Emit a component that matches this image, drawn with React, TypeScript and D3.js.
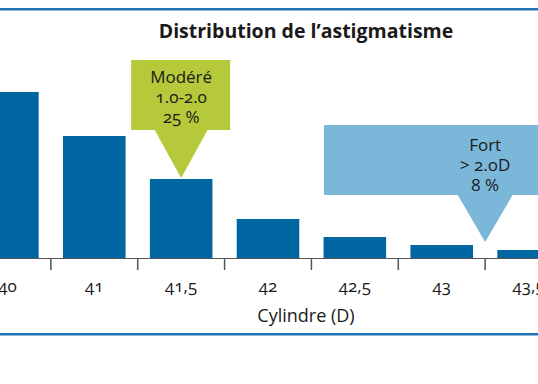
import React, { useEffect, useRef } from "react";
import * as d3 from "d3";

// Cylinder classes (x axis) and bar heights (relative share, %)
const categories = ["40", "41", "41,5", "42", "42,5", "43", "43,5"];
const values = [33.2, 24.4, 15.8, 7.8, 4.2, 2.6, 1.6];

// Callouts
const moderateLines = ["Modéré", "1.0-2.0", "25 %"];
const strongLines = ["Fort", "> 2.oD", "8 %"];

const title = "Distribution de l\u2019astigmatisme";
const xLabel = "Cylindre (D)";

const App = () => {
  const ref = useRef<SVGSVGElement | null>(null);

  useEffect(() => {
    const width = 538;
    const height = 384;
    const baseline = 258;
    const font = "'Open Sans', 'Noto Sans', sans-serif";

    const svg = d3.select(ref.current);
    svg.selectAll("*").remove();

    const x = d3
      .scaleBand()
      .domain(categories)
      .range([-36, 572])
      .paddingInner(0.28)
      .paddingOuter(0.14);

    const y = d3.scaleLinear().domain([0, 40]).range([baseline, 58]);

    const step = x.step();
    const gap = (step - x.bandwidth()) / 2;

    svg.append("rect").attr("width", width).attr("height", height).attr("fill", "#fff");

    // horizontal rules
    svg.append("rect").attr("x", 0).attr("y", 8).attr("width", width).attr("height", 2.5).attr("fill", "#2271b1");
    svg.append("rect").attr("x", 0).attr("y", 333).attr("width", width).attr("height", 2.5).attr("fill", "#2271b1");

    // title
    svg
      .append("text")
      .attr("x", 306)
      .attr("y", 38)
      .attr("text-anchor", "middle")
      .style("font-family", font)
      .style("font-weight", "700")
      .style("font-size", "19.5px")
      .style("fill", "#1a1a1a")
      .text(title);

    // bars
    svg
      .selectAll("rect.bar")
      .data(values)
      .join("rect")
      .attr("class", "bar")
      .attr("x", (d, i) => x(categories[i])!)
      .attr("y", (d) => y(d))
      .attr("width", x.bandwidth())
      .attr("height", (d) => baseline - y(d))
      .attr("fill", "#0066a1");

    // axis line + ticks between bands
    svg
      .append("line")
      .attr("x1", 0)
      .attr("x2", width)
      .attr("y1", baseline + 0.5)
      .attr("y2", baseline + 0.5)
      .attr("stroke", "#555")
      .attr("stroke-width", 1.2);

    const boundaries = categories.map((c) => x(c)! + x.bandwidth() + gap);
    svg
      .selectAll("line.tick")
      .data(boundaries)
      .join("line")
      .attr("class", "tick")
      .attr("x1", (d) => d)
      .attr("x2", (d) => d)
      .attr("y1", baseline)
      .attr("y2", baseline + 12)
      .attr("stroke", "#555")
      .attr("stroke-width", 1.5);

    // tick labels
    svg
      .selectAll("text.tl")
      .data(categories)
      .join("text")
      .attr("class", "tl")
      .attr("x", (d) => x(d)! + x.bandwidth() / 2)
      .attr("y", 292)
      .attr("text-anchor", "middle")
      .style("font-family", font)
      .style("font-size", "17px")
      .style("font-variant-numeric", "oldstyle-nums")
      .style("fill", "#1a1a1a")
      .text((d) => d);

    // x label
    svg
      .append("text")
      .attr("x", 306)
      .attr("y", 322)
      .attr("text-anchor", "middle")
      .style("font-family", font)
      .style("font-size", "18px")
      .style("fill", "#1a1a1a")
      .text(xLabel);

    // moderate callout, pointing at the 41,5 bar
    const mx = x("41,5")! + x.bandwidth() / 2;
    const mTip = y(values[2]) - 1;
    const g1 = svg.append("g");
    g1.append("rect").attr("x", mx - 50).attr("y", 60).attr("width", 99).attr("height", 70).attr("fill", "#b5c93a");
    g1.append("path")
      .attr("d", `M${mx - 27},129 L${mx + 27},129 L${mx},${mTip} Z`)
      .attr("fill", "#b5c93a");
    moderateLines.forEach((t, i) => {
      g1.append("text")
        .attr("x", mx)
        .attr("y", 83 + i * 20)
        .attr("text-anchor", "middle")
        .style("font-family", font)
        .style("font-size", "17px")
        .style("font-variant-numeric", "oldstyle-nums")
        .style("fill", "#1a1a1a")
        .text(t);
    });

    // strong callout, pointing between 43 and 43,5
    const sx = boundaries[5];
    const sTip = y(values[5]) - 3;
    const g2 = svg.append("g");
    g2.append("rect").attr("x", 324).attr("y", 125).attr("width", 260).attr("height", 70).attr("fill", "#7bb7d9");
    g2.append("path")
      .attr("d", `M${sx - 28},194 L${sx + 28},194 L${sx},${sTip} Z`)
      .attr("fill", "#7bb7d9");
    strongLines.forEach((t, i) => {
      g2.append("text")
        .attr("x", sx)
        .attr("y", 151 + i * 20)
        .attr("text-anchor", "middle")
        .style("font-family", font)
        .style("font-size", "17px")
        .style("font-variant-numeric", "oldstyle-nums")
        .style("fill", "#1a1a1a")
        .text(t);
    });
  }, []);

  return (
    <svg
      ref={ref}
      width={538}
      height={384}
      style={{ position: "absolute", left: 0, top: 0 }}
    />
  );
};

export default App;
